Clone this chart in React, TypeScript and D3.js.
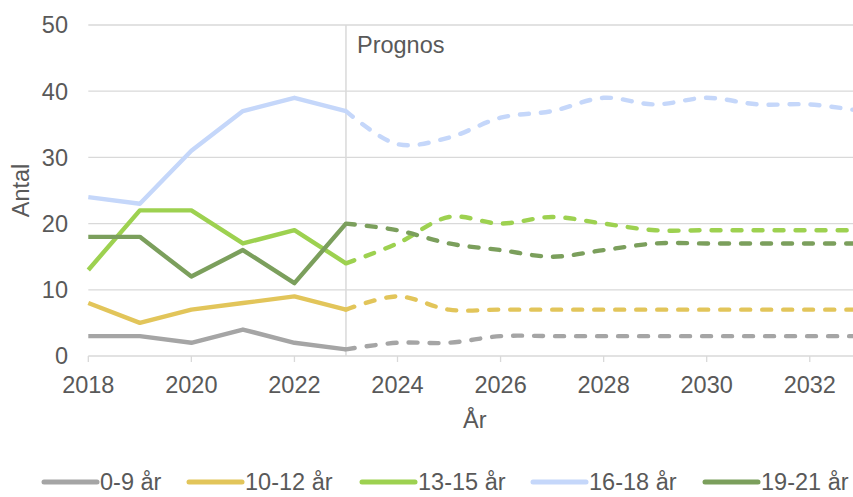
import React from "react";
import * as d3 from "d3";

const histYears = [2018, 2019, 2020, 2021, 2022, 2023];
const progYears = [2023, 2024, 2025, 2026, 2027, 2028, 2029, 2030, 2031, 2032, 2033];

const seriesNames = ["0-9 år", "10-12 år", "13-15 år", "16-18 år", "19-21 år"];
const seriesColors = ["#A5A5A5", "#E2C55A", "#9DD150", "#C5D7FA", "#7B9F5C"];

const hist0_9 = [3, 3, 2, 4, 2, 1];
const hist10_12 = [8, 5, 7, 8, 9, 7];
const hist13_15 = [13, 22, 22, 17, 19, 14];
const hist16_18 = [24, 23, 31, 37, 39, 37];
const hist19_21 = [18, 18, 12, 16, 11, 20];

const prog0_9 = [1, 2, 2, 3, 3, 3, 3, 3, 3, 3, 3];
const prog10_12 = [7, 9, 7, 7, 7, 7, 7, 7, 7, 7, 7];
const prog13_15 = [14, 17, 21, 20, 21, 20, 19, 19, 19, 19, 19];
const prog16_18 = [37, 32, 33, 36, 37, 39, 38, 39, 38, 38, 37];
const prog19_21 = [20, 19, 17, 16, 15, 16, 17, 17, 17, 17, 17];

const histSeries = [hist0_9, hist10_12, hist13_15, hist16_18, hist19_21];
const progSeries = [prog0_9, prog10_12, prog13_15, prog16_18, prog19_21];

const xTicks = [2018, 2020, 2022, 2024, 2026, 2028, 2030, 2032];
const yTicks = [0, 10, 20, 30, 40, 50];
const prognosYear = 2023;

const W = 853;
const H = 497;
const FONT = "'Liberation Sans', Arial, sans-serif";
const FS = 23.5;
const TEXT = "#595959";
const GRID = "#D9D9D9";

export default function App() {
  const x = d3.scaleLinear().domain([2018, 2033]).range([88.3, 861.3]);
  const y = d3.scaleLinear().domain([0, 50]).range([356, 25]);

  const histLine = d3
    .line<number>()
    .x((_, i) => x(histYears[i]))
    .y((d) => y(d));
  const progLine = d3
    .line<number>()
    .x((_, i) => x(progYears[i]))
    .y((d) => y(d))
    .curve(d3.curveCatmullRom.alpha(0.5));

  const legendX = [44, 189, 362, 533, 705];

  return (
    <svg
      width={W}
      height={H}
      style={{ position: "absolute", left: 0, top: 0, background: "#fff" }}
      fontFamily={FONT}
    >
      {yTicks.map((t) => (
        <g key={t}>
          <line x1={x(2018)} x2={W} y1={y(t)} y2={y(t)} stroke={GRID} strokeWidth={1.3} />
          <text x={68} y={y(t)} dy="0.36em" textAnchor="end" fontSize={FS} fill={TEXT}>
            {t}
          </text>
        </g>
      ))}
      {xTicks.map((t) => (
        <g key={t}>
          <line x1={x(t)} x2={x(t)} y1={y(0)} y2={y(0) + 6} stroke={GRID} strokeWidth={1.3} />
          <text x={x(t)} y={393} textAnchor="middle" fontSize={FS} fill={TEXT}>
            {t}
          </text>
        </g>
      ))}
      <line x1={x(prognosYear)} x2={x(prognosYear)} y1={y(50)} y2={y(0)} stroke={GRID} strokeWidth={1.5} />
      <text x={x(prognosYear) + 11} y={53} fontSize={FS} fill={TEXT}>
        Prognos
      </text>
      <text
        transform={`translate(29, ${y(25)}) rotate(-90)`}
        textAnchor="middle"
        fontSize={FS}
        fill={TEXT}
      >
        Antal
      </text>
      <text x={x(2025.5)} y={428} textAnchor="middle" fontSize={FS} fill={TEXT}>
        År
      </text>

      {progSeries.map((s, i) => (
        <path
          key={"p" + i}
          d={progLine(s) || ""}
          fill="none"
          stroke={seriesColors[i]}
          strokeWidth={4.4}
          strokeDasharray="9 12"
          strokeLinecap="round"
        />
      ))}
      {histSeries.map((s, i) => (
        <path
          key={"h" + i}
          d={histLine(s) || ""}
          fill="none"
          stroke={seriesColors[i]}
          strokeWidth={4.4}
          strokeLinejoin="round"
        />
      ))}

      {seriesNames.map((n, i) => (
        <g key={n}>
          <line
            x1={legendX[i]}
            x2={legendX[i] + 53}
            y1={482}
            y2={482}
            stroke={seriesColors[i]}
            strokeWidth={5}
            strokeLinecap="round"
          />
          <text x={legendX[i] + 56} y={490} fontSize={FS} fill={TEXT}>
            {n}
          </text>
        </g>
      ))}
    </svg>
  );
}
